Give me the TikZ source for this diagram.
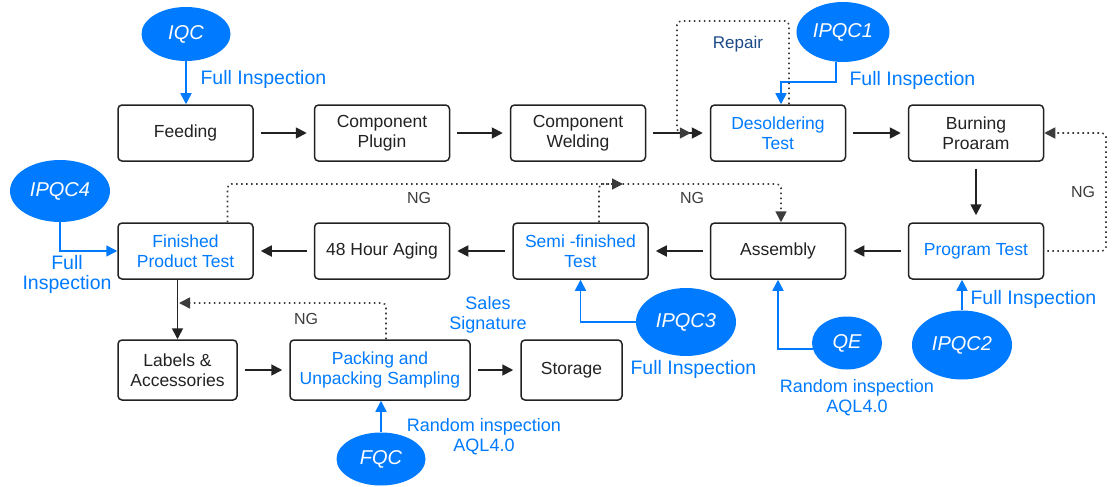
\documentclass[tikz,border=0pt]{standalone}
\usepackage{fontspec}
\setmainfont{Liberation Sans}
\usetikzlibrary{arrows.meta,shapes.geometric}
\definecolor{qcblue}{RGB}{0,122,255}
\definecolor{repairblue}{RGB}{28,74,135}
\definecolor{nggray}{RGB}{60,60,60}
\definecolor{boxblack}{RGB}{34,34,34}
\tikzset{
  box/.style={draw=boxblack, line width=1.5pt, rounded corners=4pt, minimum width=135pt, minimum height=56pt, align=center, inner sep=2pt, text=boxblack, font=\fontsize{17.5}{20}\selectfont},
  bluebox/.style={box, text=qcblue},
  qc/.style={ellipse, fill=qcblue, text=white, inner sep=0pt, font=\fontsize{20}{24}\selectfont\itshape},
  lbl/.style={text=qcblue, align=center, font=\fontsize{18}{20}\selectfont},
  full/.style={text=qcblue, anchor=west, font=\fontsize{19.5}{22}\selectfont},
  nglbl/.style={text=nggray, font=\fontsize{16}{18}\selectfont},
  flow/.style={-{Triangle[length=11pt,width=11pt]}, line width=1.8pt, boxblack, shorten >=7pt, shorten <=7pt},
  qcline/.style={-{Triangle[length=11pt,width=11pt]}, line width=1.6pt, qcblue},
  ngline/.style={-{Triangle[length=11pt,width=11pt]}, line width=1.6pt, nggray, dash pattern=on 1.6pt off 3.4pt, rounded corners=4pt},
}
\begin{document}
\begin{tikzpicture}[x=1pt,y=-1pt]
\useasboundingbox (0,0) rectangle (1117,487);
\node[box] (feed) at (185.5,133) {Feeding};
\node[box] (plug) at (382,133) {Component\\Plugin};
\node[box] (weld) at (578,133) {Component\\Welding};
\node[bluebox] (desold) at (778,133) {Desoldering\\Test};
\node[box] (burn) at (976,133) {Burning\\Proaram};
\node[bluebox] (fin) at (185.5,251) {Finished\\Product Test};
\node[box] (aging) at (382,251) {48 Hour Aging};
\node[bluebox] (semi) at (580.5,251) {Semi -finished\\Test};
\node[box] (assy) at (778,251) {Assembly};
\node[bluebox] (prog) at (976,251) {Program Test};
\node[box, minimum width=119pt, minimum height=60pt] (lab) at (177.5,370) {Labels \&\\Accessories};
\node[bluebox, minimum width=180pt, minimum height=60pt] (pack) at (380,370) {Packing and\\Unpacking Sampling};
\node[box, minimum width=101pt, minimum height=60pt] (stor) at (571.5,370) {Storage};

\draw[flow] (feed) -- (plug);
\draw[flow] (plug) -- (weld);
\draw[flow] (weld) -- (desold);
\draw[flow] (desold) -- (burn);
\draw[flow] (burn) -- (prog);
\draw[flow] (prog) -- (assy);
\draw[flow] (assy) -- (semi);
\draw[flow] (semi) -- (aging);
\draw[flow] (aging) -- (fin);
\draw[flow, shorten <=0pt, shorten >=0pt] (fin.south -| lab.north) -- (lab.north);
\draw[flow] (lab) -- (pack);
\draw[flow] (pack) -- (stor);

\node[qc, minimum width=89pt, minimum height=54pt] (iqc) at (186,34) {IQC};
\node[qc, minimum width=93pt, minimum height=60pt] (ipqc1) at (843,32) {IPQC1};
\node[qc, minimum width=100pt, minimum height=69pt] (ipqc2) at (962,345) {IPQC2};
\node[qc, minimum width=100pt, minimum height=68pt] (ipqc3) at (686,322) {IPQC3};
\node[qc, minimum width=100pt, minimum height=62pt] (ipqc4) at (60,191) {IPQC4};
\node[qc, minimum width=70pt, minimum height=53pt] (qe) at (847,343) {QE};
\node[qc, minimum width=89pt, minimum height=53pt] (fqc) at (381,459) {FQC};

\coordinate (j1) at (781,82);
\draw[qcline] (iqc) -- (iqc |- feed.north);
\draw[qcline] ([xshift=-7pt]ipqc1.south) |- (j1) -- (j1 |- desold.north);
\draw[qcline] (ipqc2.north) -- (ipqc2.north |- prog.south);
\draw[qcline] (ipqc3.west) -| (semi.south);
\draw[qcline] (ipqc4.south) |- (fin.west);
\draw[qcline] (qe.190) -| (assy.south);
\draw[qcline] (fqc) -- (fqc |- pack.south);

\node[full] (fi1) at (197,79) {Full Inspection};
\node[full] (fi2) at (846,80) {Full Inspection};
\node[full] (fi3) at (967,299) {Full Inspection};
\node[full] (fi4) at (627,369) {Full Inspection};
\node[lbl, font=\fontsize{19.5}{20}\selectfont] (fi5) at (67,274) {Full\\Inspection};
\node[lbl] (rnd1) at (857,398) {Random inspection\\AQL4.0};
\node[lbl] (rnd2) at (484,437) {Random inspection\\AQL4.0};
\node[lbl] (sales) at (488,315) {Sales\\Signature};
\node[text=repairblue, font=\fontsize{17}{20}\selectfont] (rep) at (738,44) {Repair};

\coordinate (rp) at (677,21);
\coordinate (nr) at (1106,190);
\coordinate (nf) at (623,184);
\coordinate (ns) at (781,184);
\coordinate (np) at (179,303);
\draw[ngline] ([xshift=11pt]desold.north) |- (rp) |- ([xshift=-19pt]desold.west);
\draw[ngline] ([xshift=3pt]prog.east) -| (nr) |- (burn.east);
\draw[ngline] ([xshift=42pt]fin.north) |- (nf);
\draw[ngline] ([xshift=18.5pt]semi.north) |- (ns) -- (ns |- assy.north);
\draw[ngline] ([xshift=6pt]pack.north) |- (np);
\node[nglbl] (ng1) at (1083,192) {NG};
\node[nglbl] (ng2) at (419,198) {NG};
\node[nglbl] (ng3) at (692,198) {NG};
\node[nglbl] (ng4) at (306,319) {NG};
\end{tikzpicture}
\end{document}
